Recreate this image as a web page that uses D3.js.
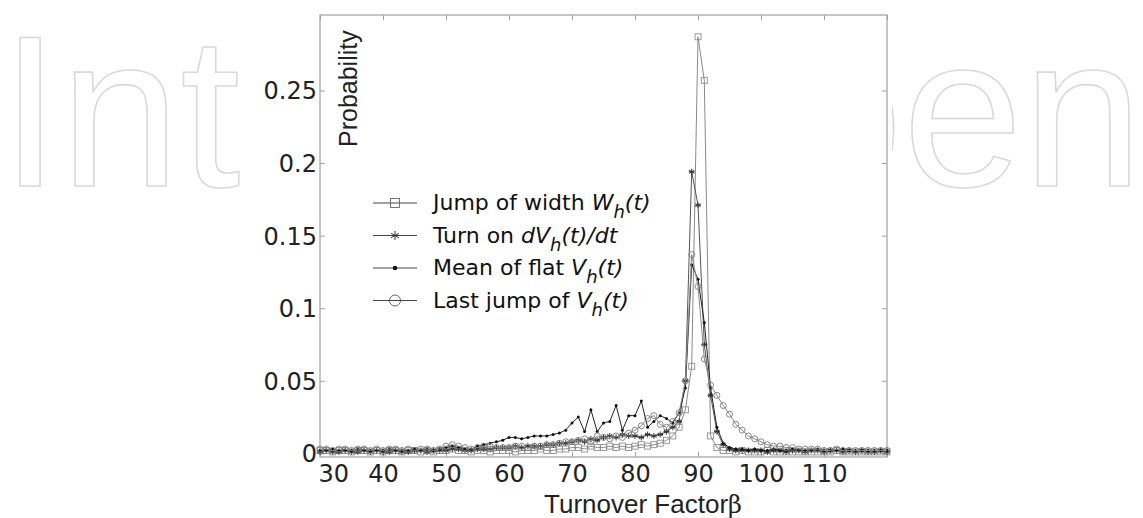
<!DOCTYPE html>
<html>
<head>
<meta charset="utf-8">
<script src="https://cdn.jsdelivr.net/npm/d3@7"></script>
<style>
  body { margin: 0; background: #fff; }
  svg { display: block; font-family: "Liberation Sans", Arial, sans-serif; }
</style>
</head>
<body>
<svg width="1143" height="518"></svg>
<script>
// turnover factor histogram, 4 detection methods

const beta = [30,31,32,33,34,35,36,37,38,39,40,41,42,43,44,45,46,47,48,49,
  50,51,52,53,54,55,56,57,58,59,60,61,62,63,64,65,66,67,68,69,
  70,71,72,73,74,75,76,77,78,79,80,81,82,83,84,85,86,87,88,89,
  90,91,92,93,94,95,96,97,98,99,100,101,102,103,104,105,106,107,108,109,
  110,111,112,113,114,115,116,117,118,119,120];

// Jump of width Wh(t)  (squares)
const jumpWidth = [0.002,0.002,0.001,0.002,0.002,0.001,0.002,0.002,0.001,0.002,
  0.001,0.002,0.002,0.001,0.002,0.002,0.001,0.002,0.001,0.002,
  0.002,0.003,0.002,0.002,0.001,0.002,0.002,0.001,0.002,0.002,
  0.002,0.001,0.002,0.002,0.002,0.003,0.002,0.002,0.003,0.003,
  0.004,0.004,0.003,0.005,0.004,0.004,0.005,0.004,0.005,0.004,
  0.005,0.006,0.005,0.006,0.007,0.009,0.012,0.018,0.03,0.06,
  0.287,0.257,0.012,0.004,0.002,0.002,0.001,0.002,0.001,0.001,
  0.001,0.002,0.001,0.001,0.001,0.001,0.001,0.001,0.001,0.001,
  0.001,0.001,0.002,0.001,0.001,0.001,0.001,0.001,0.001,0.001,0.001];

// Turn on dVh(t)/dt  (asterisks)
const turnOn = [0.001,0.002,0.001,0.001,0.002,0.001,0.001,0.002,0.001,0.002,
  0.001,0.001,0.002,0.001,0.001,0.002,0.002,0.001,0.002,0.002,
  0.002,0.003,0.003,0.002,0.002,0.003,0.003,0.003,0.004,0.004,
  0.004,0.005,0.004,0.005,0.005,0.005,0.006,0.006,0.007,0.007,
  0.008,0.009,0.008,0.01,0.009,0.011,0.012,0.011,0.013,0.012,
  0.012,0.011,0.013,0.012,0.013,0.015,0.018,0.022,0.05,0.194,
  0.171,0.075,0.04,0.015,0.006,0.003,0.002,0.002,0.002,0.002,
  0.002,0.001,0.002,0.002,0.001,0.002,0.002,0.001,0.002,0.002,
  0.001,0.002,0.002,0.001,0.002,0.001,0.002,0.001,0.001,0.002,0.001];

// Mean of flat Vh(t)  (dots)
const meanFlat = [0.002,0.002,0.003,0.002,0.002,0.002,0.003,0.002,0.002,0.002,
  0.002,0.003,0.002,0.002,0.002,0.003,0.002,0.003,0.002,0.003,
  0.004,0.005,0.004,0.003,0.003,0.005,0.006,0.007,0.008,0.009,
  0.011,0.011,0.01,0.011,0.012,0.012,0.012,0.013,0.014,0.016,
  0.021,0.025,0.015,0.03,0.015,0.021,0.022,0.033,0.016,0.026,
  0.026,0.036,0.018,0.022,0.026,0.024,0.021,0.028,0.045,0.13,
  0.12,0.09,0.045,0.018,0.007,0.004,0.003,0.003,0.002,0.003,
  0.002,0.002,0.003,0.002,0.002,0.003,0.002,0.002,0.002,0.003,
  0.002,0.002,0.002,0.003,0.002,0.002,0.002,0.002,0.002,0.002,0.002];

// Last jump of Vh(t)  (circles)
const lastJump = [0.003,0.003,0.002,0.003,0.003,0.002,0.003,0.003,0.002,0.003,
  0.002,0.003,0.003,0.002,0.003,0.002,0.003,0.003,0.002,0.003,
  0.005,0.006,0.005,0.004,0.003,0.004,0.005,0.005,0.004,0.004,
  0.004,0.005,0.005,0.004,0.005,0.005,0.006,0.006,0.007,0.008,
  0.008,0.009,0.01,0.008,0.012,0.011,0.01,0.012,0.011,0.014,
  0.016,0.019,0.024,0.026,0.02,0.018,0.022,0.028,0.05,0.137,
  0.115,0.065,0.047,0.04,0.033,0.027,0.02,0.016,0.012,0.01,
  0.008,0.006,0.005,0.005,0.004,0.004,0.003,0.003,0.003,0.003,
  0.002,0.002,0.003,0.002,0.002,0.002,0.002,0.002,0.002,0.002,0.002];

const xTicks = [30,40,50,60,70,80,90,100,110,120];
const xTickLabels = ["30","40","50","60","70","80","90","100","110",""];
const yTicks = [0,0.05,0.1,0.15,0.2,0.25];
const yTickLabels = ["0","0.05","0.1","0.15","0.2","0.25"];

const svg = d3.select("svg");
const wide = "'DejaVu Sans', sans-serif";

// watermark behind the figure (only the outer letters show)
const wm = (t, xx, anchor) =>
  svg.append("text")
    .attr("x", xx).attr("y", 186).attr("text-anchor", anchor)
    .attr("font-size", 216)
    .attr("fill", "none").attr("stroke", "#d9d9d9").attr("stroke-width", 1.6)
    .text(t);
wm("Int", 0, "start");
wm("pen", 1143, "end");

// the chart picture covers the watermark
svg.append("rect").attr("x", 252).attr("y", 0).attr("width", 640).attr("height", 518).attr("fill", "#fff");

const pLeft = 320, pRight = 887, pTop = 15, pBottom = 457;
const x = d3.scaleLinear().domain([30, 120]).range([pLeft, pRight]);
const y = d3.scaleLinear().domain([-0.0025, 0.302]).range([pBottom, pTop]);

// box
svg.append("rect").attr("x", pLeft).attr("y", pTop).attr("width", pRight - pLeft).attr("height", pBottom - pTop)
  .attr("fill", "none").attr("stroke", "#a0a0a0").attr("stroke-width", 1.2);

// inward ticks on all sides
const tickStyle = (g) => {
  g.attr("font-family", null).attr("font-size", null);
  g.select(".domain").remove();
  g.selectAll(".tick line").attr("stroke", "#a0a0a0");
  g.selectAll("text").style("font-size", "24px").style("font-family", wide).attr("fill", "#222");
};
svg.append("g").attr("transform", `translate(0,${pBottom})`)
  .call(d3.axisBottom(x).tickValues(xTicks).tickSizeInner(-5).tickSizeOuter(0).tickPadding(8)
    .tickFormat((d, i) => xTickLabels[i]))
  .call(tickStyle)
  .call((g) => g.selectAll("text").filter((d) => d === 30).attr("text-anchor", "start").attr("dx", -2));
svg.append("g").attr("transform", `translate(0,${pTop})`)
  .call(d3.axisTop(x).tickValues(xTicks).tickSizeInner(-5).tickSizeOuter(0).tickFormat(""))
  .call(tickStyle);
svg.append("g").attr("transform", `translate(${pLeft},0)`)
  .call(d3.axisLeft(y).tickValues(yTicks).tickSizeInner(-5).tickSizeOuter(0).tickPadding(3)
    .tickFormat((d, i) => yTickLabels[i]))
  .call(tickStyle)
  .call((g) => g.selectAll("text").attr("dy", "0.35em"));
svg.append("g").attr("transform", `translate(${pRight},0)`)
  .call(d3.axisRight(y).tickValues(yTicks).tickSizeInner(-5).tickSizeOuter(0).tickFormat(""))
  .call(tickStyle);

// series
const series = [
  { name: "jump", values: jumpWidth, line: "#8a8a8a", marker: "square", mc: "#8f8f8f" },
  { name: "turn", values: turnOn, line: "#555", marker: "star", mc: "#333" },
  { name: "mean", values: meanFlat, line: "#222", marker: "dot", mc: "#111" },
  { name: "last", values: lastJump, line: "#8a8a8a", marker: "circle", mc: "#7a7a7a" },
];

const line = d3.line().x((d) => x(d[0])).y((d) => y(d[1]));

function drawMarker(g, type, cx, cy, s, color) {
  if (type === "square") {
    g.append("rect").attr("x", cx - s / 2).attr("y", cy - s / 2).attr("width", s).attr("height", s)
      .attr("fill", "none").attr("stroke", color).attr("stroke-width", 0.9);
  } else if (type === "circle") {
    g.append("circle").attr("cx", cx).attr("cy", cy).attr("r", s / 2)
      .attr("fill", "none").attr("stroke", color).attr("stroke-width", 0.9);
  } else if (type === "dot") {
    g.append("circle").attr("cx", cx).attr("cy", cy).attr("r", s / 4).attr("fill", color);
  } else {
    const r = s / 2;
    [0, 60, 120].forEach((a) => {
      const t = (a * Math.PI) / 180;
      g.append("line")
        .attr("x1", cx - r * Math.sin(t)).attr("y1", cy - r * Math.cos(t))
        .attr("x2", cx + r * Math.sin(t)).attr("y2", cy + r * Math.cos(t))
        .attr("stroke", color).attr("stroke-width", 1);
    });
    g.append("line").attr("x1", cx - r).attr("y1", cy).attr("x2", cx + r).attr("y2", cy)
      .attr("stroke", color).attr("stroke-width", 1);
  }
}

const plot = svg.append("g");
series.forEach((s) => {
  const pts = beta.map((b, i) => [b, s.values[i]]);
  plot.append("path").datum(pts).attr("d", line)
    .attr("fill", "none").attr("stroke", s.line).attr("stroke-width", 1);
  const mg = plot.append("g");
  pts.forEach((p) => drawMarker(mg, s.marker, x(p[0]), y(p[1]), 6, s.mc));
});

// legend
const legendRows = [
  { marker: "square", mc: "#666", parts: [["Jump of width ", false], ["W", true], ["h", true, true], ["(t)", true]] },
  { marker: "star", mc: "#333", parts: [["Turn on ", false], ["dV", true], ["h", true, true], ["(t)/dt", true]] },
  { marker: "dot", mc: "#111", parts: [["Mean of flat ", false], ["V", true], ["h", true, true], ["(t)", true]] },
  { marker: "circle", mc: "#555", parts: [["Last jump of ", false], ["V", true], ["h", true, true], ["(t)", true]] },
];
const legend = svg.append("g");
legendRows.forEach((r, i) => {
  const by = 210 + i * 32.5;
  const ly = by - 7;
  legend.append("line").attr("x1", 373).attr("x2", 417).attr("y1", ly).attr("y2", ly)
    .attr("stroke", "#444").attr("stroke-width", 1);
  drawMarker(legend, r.marker, 395, ly, r.marker === "circle" ? 11 : 9, r.mc);
  const t = legend.append("text").attr("x", 433).attr("y", by)
    .style("font-size", "22px").style("font-family", wide).attr("fill", "#111");
  let sub = false;
  r.parts.forEach((p) => {
    const ts = t.append("tspan").text(p[0]).attr("font-style", p[1] ? "italic" : "normal");
    if (p[2]) {
      ts.style("font-size", "18px").attr("dy", 8);
      sub = true;
    } else if (sub) {
      ts.attr("dy", -8);
      sub = false;
    }
  });
});

// axis titles
svg.append("text").attr("transform", "translate(357,147) rotate(-90)")
  .attr("font-size", 25).attr("fill", "#222").text("Probability");
const xt = svg.append("text").attr("x", 643).attr("y", 513).attr("text-anchor", "middle")
  .attr("font-size", 26).attr("fill", "#222");
xt.append("tspan").text("Turnover Factor");
xt.append("tspan").attr("font-family", "DejaVu Serif, serif").attr("font-size", 24).text("β");
</script>
</body>
</html>
